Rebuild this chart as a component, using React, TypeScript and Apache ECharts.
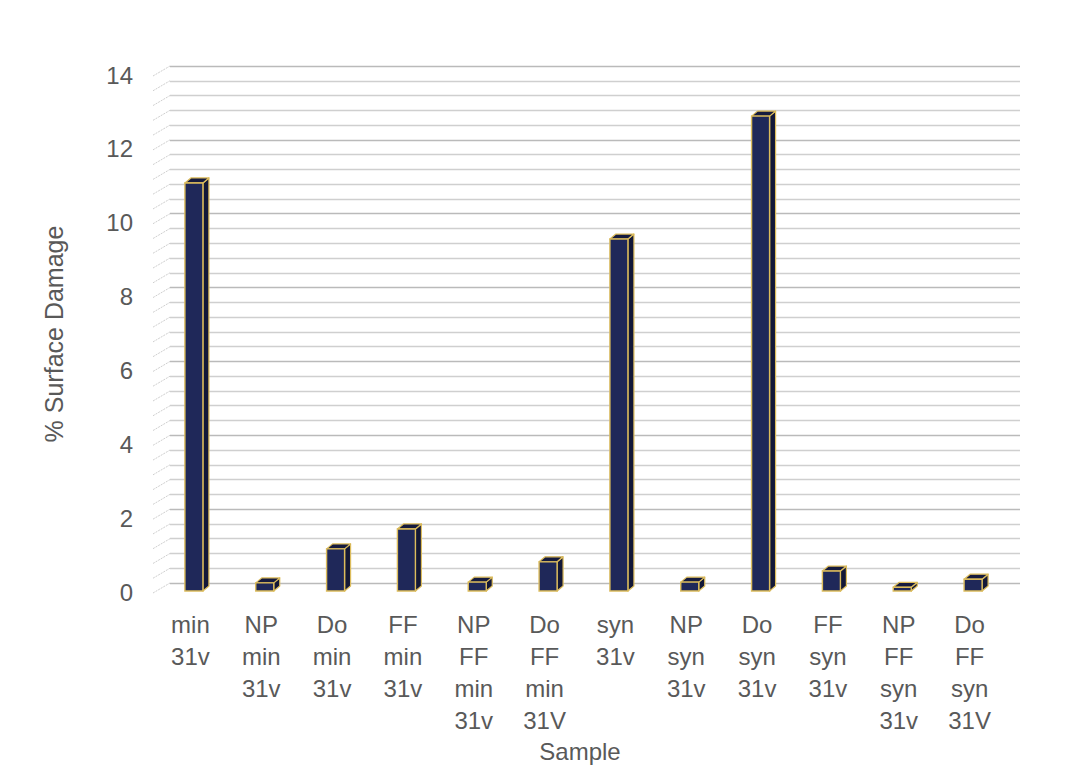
import React, { useEffect, useRef } from "react";
import * as echarts from "echarts";

const categories = [
  "min\n31v",
  "NP\nmin\n31v",
  "Do\nmin\n31v",
  "FF\nmin\n31v",
  "NP\nFF\nmin\n31v",
  "Do\nFF\nmin\n31V",
  "syn\n31v",
  "NP\nsyn\n31v",
  "Do\nsyn\n31v",
  "FF\nsyn\n31v",
  "NP\nFF\nsyn\n31v",
  "Do\nFF\nsyn\n31V",
];
const damage = [11.05, 0.22, 1.14, 1.68, 0.24, 0.79, 9.53, 0.24, 12.86, 0.54, 0.1, 0.32];
const yMin = 0;
const yMax = 14;
const yMajor = 2;
const yMinorSplit = 5;

const FONT = "'Liberation Sans', Arial, sans-serif";
const TEXT = "#595959";
const FS = 24;

export default function App() {
  const ref = useRef<HTMLDivElement>(null);
  useEffect(() => {
    document.body.style.margin = "0";
    if (!ref.current) return;
    const chart = echarts.init(ref.current, null, { renderer: "svg" });
    const depthX = 15;
    const depthY = 9;
    const option: any = {
      animation: false,
      backgroundColor: "#ffffff",
      textStyle: { fontFamily: FONT },
      grid: [
        { left: 155, top: 75, width: 850, height: 517 },
        { left: 155 + depthX, top: 75 - depthY, width: 850, height: 517 },
      ],
      xAxis: [
        {
          type: "category",
          gridIndex: 0,
          data: categories,
          axisLine: { show: false },
          axisTick: { show: false },
          axisLabel: {
            interval: 0,
            color: TEXT,
            fontSize: FS,
            lineHeight: 32,
            margin: 16,
            fontFamily: FONT,
          },
        },
        {
          type: "category",
          gridIndex: 1,
          data: categories,
          show: false,
        },
      ],
      yAxis: [
        {
          type: "value",
          gridIndex: 0,
          min: yMin,
          max: yMax,
          interval: yMajor,
          axisLine: { show: false },
          axisTick: { show: false },
          splitLine: { show: false },
          axisLabel: { color: TEXT, fontSize: FS, margin: 22, fontFamily: FONT },
        },
        {
          type: "value",
          gridIndex: 1,
          min: yMin,
          max: yMax,
          interval: yMajor,
          axisLine: { show: false },
          axisTick: { show: false },
          axisLabel: { show: false },
          splitLine: { show: true, lineStyle: { color: "#bababa", width: 1.4 } },
          minorTick: { show: false, splitNumber: yMinorSplit },
          minorSplitLine: { show: true, lineStyle: { color: "#cfcfcf", width: 1.4 } },
        },
      ],
      series: [
        {
          type: "custom",
          name: "sidewall",
          xAxisIndex: 0,
          yAxisIndex: 0,
          silent: true,
          z: 1,
          data: [[0, 0]],
          renderItem: (params: any, api: any) => {
            const cs = params.coordSys;
            const children: any[] = [];
            const step = yMajor / yMinorSplit;
            const n = Math.round((yMax - yMin) / step);
            for (let i = 0; i <= n; i++) {
              const v = yMin + i * step;
              const py = api.coord([0, v])[1];
              children.push({
                type: "line",
                shape: { x1: cs.x - 2, y1: py + 1, x2: cs.x + depthX, y2: py - depthY },
                style: { stroke: "#cfcfcf", lineWidth: 1, lineDash: [2, 1] },
              });
            }
            return { type: "group", children };
          },
        },
        {
          type: "custom",
          name: "% Surface Damage",
          xAxisIndex: 0,
          yAxisIndex: 0,
          z: 5,
          data: damage.map((v, i) => [i, v]),
          encode: { x: 0, y: 1 },
          renderItem: (params: any, api: any) => {
            const idx = api.value(0);
            const val = api.value(1);
            const top = api.coord([idx, val]);
            const base = api.coord([idx, 0]);
            const cx = top[0] + 3.5;
            const yT = top[1] - 1;
            const yB = base[1] - 1;
            const hw = 9;
            const dx = 6;
            const dy = 5;
            const edge = "#dcbc5c";
            return {
              type: "group",
              children: [
                {
                  type: "polygon",
                  shape: {
                    points: [
                      [cx + hw, yT],
                      [cx + hw + dx, yT - dy],
                      [cx + hw + dx, yB - dy],
                      [cx + hw, yB],
                    ],
                  },
                  style: { fill: "#131838", stroke: edge, lineWidth: 1.2, lineJoin: "round" },
                },
                {
                  type: "polygon",
                  shape: {
                    points: [
                      [cx - hw, yT],
                      [cx + hw, yT],
                      [cx + hw + dx, yT - dy],
                      [cx - hw + dx, yT - dy],
                    ],
                  },
                  style: { fill: "#161b3e", stroke: edge, lineWidth: 1.2, lineJoin: "round" },
                },
                {
                  type: "rect",
                  shape: { x: cx - hw, y: yT, width: hw * 2, height: Math.max(yB - yT, 0.5) },
                  style: { fill: "#1f2859", stroke: edge, lineWidth: 1.4 },
                },
              ],
            };
          },
        },
      ],
      graphic: [
        {
          type: "text",
          x: 54,
          y: 334,
          rotation: Math.PI / 2,
          style: {
            text: "% Surface Damage",
            fill: TEXT,
            font: `25px ${FONT}`,
            align: "center",
            verticalAlign: "middle",
          },
        },
        {
          type: "text",
          x: 580,
          y: 751,
          style: {
            text: "Sample",
            fill: TEXT,
            font: `${FS}px ${FONT}`,
            align: "center",
            verticalAlign: "middle",
          },
        },
      ],
    };
    chart.setOption(option);
    return () => chart.dispose();
  }, []);
  return <div ref={ref} style={{ width: 1092, height: 772 }} />;
}
